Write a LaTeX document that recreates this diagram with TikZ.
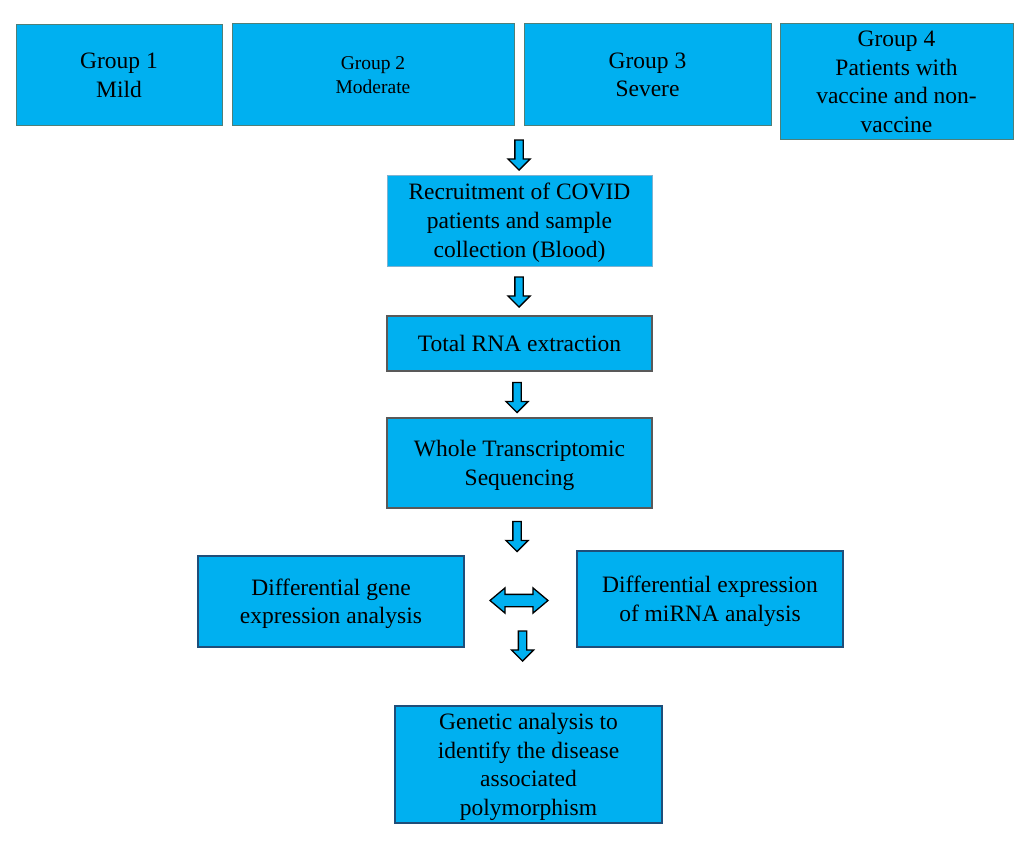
\documentclass[tikz,border=0pt]{standalone}
\usepackage{fontspec}
\setmainfont{Liberation Serif}
\usetikzlibrary{shapes.arrows}
\definecolor{boxblue}{HTML}{00B0F0}
\definecolor{groupline}{HTML}{4F7F78}
\definecolor{recline}{HTML}{7FB2D0}
\definecolor{grayline}{HTML}{595959}
\definecolor{navyline}{HTML}{1F4E79}
% line box struts, so the text sits as in the slide
\newcommand{\topln}{\rule{0pt}{0.89em}}
\newcommand{\botln}{\rule[-0.22em]{0pt}{0.22em}}
\begin{document}
\begin{tikzpicture}[x=1pt,y=-1pt,
    box/.style={draw, fill=boxblue, align=center, inner sep=0pt,
      font=\fontsize{23.5}{28.7}\selectfont},
    groupbox/.style={box, draw=groupline, line width=1pt},
    downarrow/.style={single arrow, draw=black, fill=boxblue, line width=1.3pt,
      inner sep=3.5pt, minimum width=22pt, minimum height=30pt,
      single arrow head extend=7pt, single arrow tip angle=90, rotate=-90},
    botharrow/.style={double arrow, draw=black, fill=boxblue, line width=1.3pt,
      inner sep=5.5pt, minimum width=25pt, minimum height=58pt,
      double arrow head extend=6.5pt, double arrow tip angle=80}]
  \fill[white] (0,0) rectangle (1023,867);
  \useasboundingbox (0,0) rectangle (1023,867);
  % four patient groups
  \node[groupbox, minimum width=206, minimum height=100] (g1) at (119,75) {\topln Group 1\\Mild\botln};
  \node[groupbox, minimum width=282, minimum height=101,
        font=\fontsize{19.5}{24}\selectfont] (g2) at (373,74.5) {\topln Group 2\\Moderate\botln};
  \node[groupbox, minimum width=247, minimum height=101] (g3) at (647.5,74.5) {\topln Group 3\\Severe\botln};
  \node[groupbox, minimum width=233, minimum height=115] (g4) at (896.5,81.5)
       {\topln Group 4\\Patients with\\vaccine and non-\\vaccine\botln};
  % workflow
  \node[box, draw=recline, line width=1pt, minimum width=265, minimum height=91] (rec) at (519.5,220.5)
       {\topln Recruitment of COVID\\patients and sample\\collection (Blood)\botln};
  \node[box, draw=grayline, line width=1.8pt, minimum width=265, minimum height=55] (rna) at (519.5,343.5)
       {\topln Total RNA extraction\botln};
  \node[box, draw=grayline, line width=1.8pt, minimum width=265, minimum height=90] (wts) at (519.5,463)
       {\topln Whole Transcriptomic\\Sequencing\botln};
  \node[box, draw=navyline, line width=1.8pt, minimum width=266, minimum height=91] (dge) at (331,601.5)
       {\topln Differential gene\\expression analysis\botln};
  \node[box, draw=navyline, line width=1.8pt, minimum width=266, minimum height=96] (dmi) at (710,599)
       {\topln Differential expression\\of miRNA analysis\botln};
  \node[box, draw=navyline, line width=1.8pt, minimum width=267, minimum height=117] (gen) at (528.5,764.5)
       {\topln Genetic analysis to\\identify the disease\\associated\\polymorphism\botln};
  % block arrows
  \node[downarrow] (a1) at (519,153) {};
  \node[downarrow] (a2) at (519,290) {};
  \node[downarrow] (a3) at (517,395.5) {};
  \node[downarrow] (a4) at (517,534.5) {};
  \node[botharrow] (a5) at (519,600.5) {};
  \node[downarrow] (a6) at (522.5,644) {};
\end{tikzpicture}
\end{document}
